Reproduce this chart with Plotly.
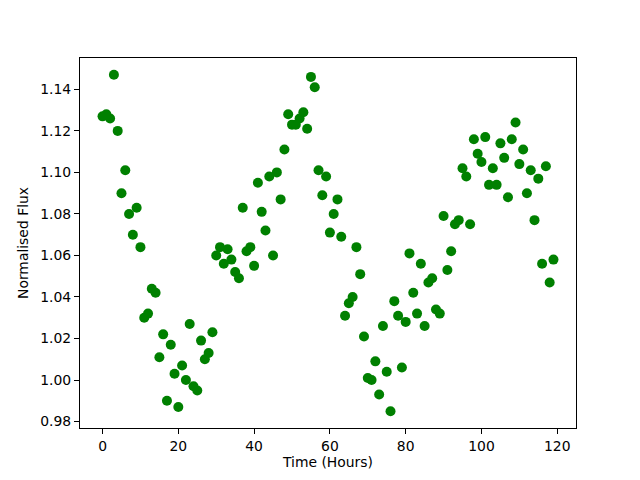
import plotly.graph_objects as go

hours = list(range(120))
flux = [1.127, 1.128, 1.126, 1.147, 1.120, 1.090, 1.101, 1.080, 1.070, 1.083,
        1.064, 1.030, 1.032, 1.044, 1.042, 1.011, 1.022, 0.990, 1.017, 1.003,
        0.987, 1.007, 1.000, 1.027, 0.997, 0.995, 1.019, 1.010, 1.013, 1.023,
        1.060, 1.064, 1.056, 1.063, 1.058, 1.052, 1.049, 1.083, 1.062, 1.064,
        1.055, 1.095, 1.081, 1.072, 1.098, 1.060, 1.100, 1.087, 1.111, 1.128,
        1.123, 1.123, 1.126, 1.129, 1.121, 1.146, 1.141, 1.101, 1.089, 1.098,
        1.071, 1.080, 1.087, 1.069, 1.031, 1.037, 1.040, 1.064, 1.051, 1.021,
        1.001, 1.000, 1.009, 0.993, 1.026, 1.004, 0.985, 1.038, 1.031, 1.006,
        1.028, 1.061, 1.042, 1.032, 1.056, 1.026, 1.047, 1.049, 1.034, 1.032,
        1.079, 1.053, 1.062, 1.075, 1.077, 1.102, 1.098, 1.075, 1.116, 1.109,
        1.105, 1.117, 1.094, 1.102, 1.094, 1.114, 1.107, 1.088, 1.116, 1.124,
        1.104, 1.111, 1.090, 1.101, 1.077, 1.097, 1.056, 1.103, 1.047, 1.058]

x_ticks = [0, 20, 40, 60, 80, 100, 120]
y_ticks = [0.98, 1.00, 1.02, 1.04, 1.06, 1.08, 1.10, 1.12, 1.14]

fig = go.Figure(go.Scatter(
    x=hours, y=flux, mode="markers",
    marker=dict(color="green", size=10, line=dict(width=0)),
))

FONT = dict(family="DejaVu Sans", size=13.9, color="black")

axis_common = dict(
    showgrid=False, zeroline=False, showline=True, mirror=True,
    linecolor="black", linewidth=1, ticks="outside", ticklen=5,
    tickwidth=1, tickcolor="black", automargin=False,
    tickfont=FONT,
)

fig.update_layout(
    width=632, height=472,
    margin=dict(l=72, r=64, t=50, b=52),
    paper_bgcolor="white", plot_bgcolor="white",
    showlegend=False,
    font=FONT,
    xaxis=dict(range=[-5.95, 124.95], tickvals=x_ticks,
               ticktext=[str(t) for t in x_ticks],
               title=dict(text="Time (Hours)", font=FONT, standoff=4), **axis_common),
    yaxis=dict(range=[0.9769, 1.1551], tickvals=y_ticks,
               ticktext=[f"{t:.2f}" for t in y_ticks],
               title=dict(text="Normalised Flux", font=FONT, standoff=8), **axis_common),
)

fig.write_html("out.html")
